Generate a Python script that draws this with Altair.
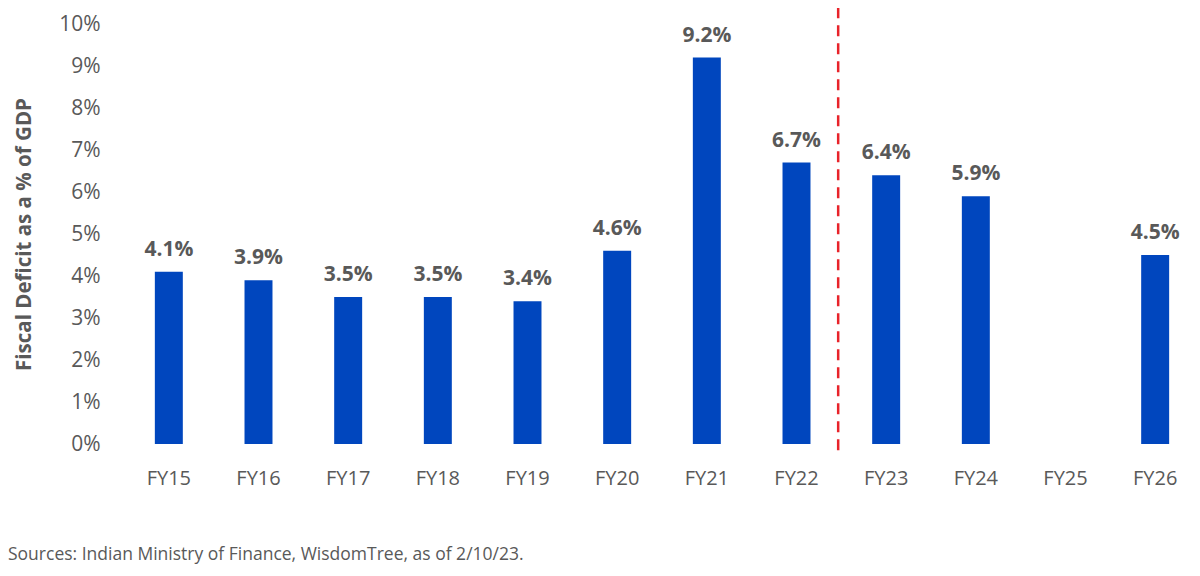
import altair as alt
import pandas as pd

years = ["FY15", "FY16", "FY17", "FY18", "FY19", "FY20",
         "FY21", "FY22", "FY23", "FY24", "FY25", "FY26"]
deficit = [4.1, 3.9, 3.5, 3.5, 3.4, 4.6, 9.2, 6.7, 6.4, 5.9, None, 4.5]
y_ticks = [0, 1, 2, 3, 4, 5, 6, 7, 8, 9, 10]
source = "Sources: Indian Ministry of Finance, WisdomTree, as of 2/10/23."

GREY = "#595959"
FONT = "Open Sans"

df = pd.DataFrame({"year": years, "deficit": deficit})

# the band range runs a little past the plot's right edge, as in the original
x = alt.X("year:N", sort=years,
          scale=alt.Scale(domain=years, range=[0, 1076], paddingInner=0.688,
                          paddingOuter=0.344, round=False),
          axis=alt.Axis(title=None, labelAngle=0, domain=False, ticks=False,
                        labelPadding=24, labelFontSize=20, labelColor=GREY,
                        labelFont=FONT))
y = alt.Y("deficit:Q",
          scale=alt.Scale(domain=[0, 10]),
          axis=alt.Axis(title="Fiscal Deficit as a % of GDP", values=y_ticks,
                        labelExpr="datum.value + '%'", grid=False,
                        domain=False, ticks=False, labelPadding=24,
                        labelFontSize=21, labelColor=GREY, labelFont=FONT,
                        titleFontSize=20.5, titleFontWeight="bold",
                        titleColor=GREY, titleFont=FONT, titlePadding=24))

base = alt.Chart(df).transform_filter("isValid(datum.deficit)")

bars = base.mark_bar(color="#0046BE").encode(x=x, y=y)

labels = base.transform_calculate(
    label="format(datum.deficit, '.1f') + '%'"
).mark_text(baseline="bottom", dy=-12, fontSize=21, fontWeight="bold",
            color=GREY, font=FONT).encode(x=x, y=y, text="label:N")

# dashed divider between actuals (FY22) and estimates (FY23+)
divider = alt.Chart(pd.DataFrame({"year": ["FY23"]})).mark_rule(
    color="#E8232A", strokeWidth=2.5, strokeDash=[11, 7], xOffset=-34
).encode(
    x=alt.X("year:N", sort=years, bandPosition=0),
    y=alt.datum(10.4),
    y2=alt.datum(-0.24),
)

chart = (bars + labels + divider).properties(
    width=1068, height=420,
    autosize=alt.AutoSizeParams(type="none"),
    padding={"left": 116, "top": 16, "right": 0, "bottom": 124},
    title=alt.TitleParams(source, orient="bottom", anchor="start",
                          frame="group", dx=-116, offset=58, fontSize=17.5,
                          fontWeight="normal", color=GREY, font=FONT),
).configure_view(stroke=None)

chart.save("out.html", embed_options={"renderer": "svg", "actions": False})
